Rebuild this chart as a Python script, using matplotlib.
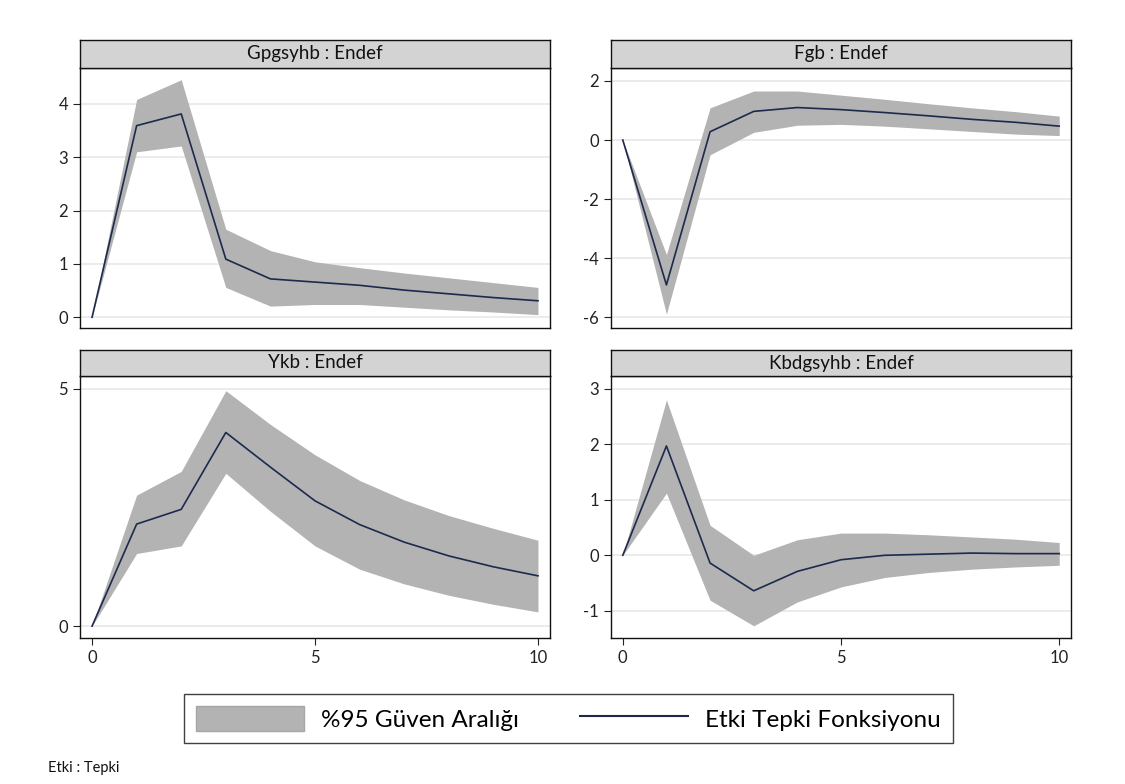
import numpy as np
import matplotlib
matplotlib.use("Agg")
import matplotlib.pyplot as plt
from matplotlib.patches import Patch
from matplotlib.lines import Line2D

plt.rcParams["font.family"] = ["Lato", "DejaVu Sans"]
plt.rcParams["axes.unicode_minus"] = False

donem = list(range(11))

# Gpgsyhb : Endef
gpg_etki = [0, 3.59, 3.81, 1.09, 0.72, 0.66, 0.60, 0.51, 0.44, 0.37, 0.31]
gpg_ust = [0, 4.08, 4.45, 1.65, 1.25, 1.04, 0.93, 0.83, 0.74, 0.65, 0.56]
gpg_alt = [0, 3.10, 3.21, 0.56, 0.21, 0.24, 0.24, 0.19, 0.14, 0.10, 0.05]

# Fgb : Endef
fgb_etki = [0, -4.91, 0.28, 0.97, 1.10, 1.03, 0.93, 0.82, 0.70, 0.60, 0.47]
fgb_ust = [0, -3.88, 1.09, 1.66, 1.66, 1.52, 1.38, 1.23, 1.09, 0.96, 0.81]
fgb_alt = [0, -5.90, -0.50, 0.26, 0.50, 0.53, 0.47, 0.38, 0.29, 0.20, 0.15]

# Ykb : Endef
ykb_etki = [0, 2.15, 2.46, 4.08, 3.35, 2.64, 2.14, 1.77, 1.48, 1.25, 1.06]
ykb_ust = [0, 2.76, 3.26, 4.96, 4.25, 3.61, 3.07, 2.66, 2.33, 2.06, 1.81]
ykb_alt = [0, 1.53, 1.69, 3.22, 2.42, 1.69, 1.20, 0.89, 0.65, 0.46, 0.30]

# Kbdgsyhb : Endef
kbd_etki = [0, 1.97, -0.14, -0.64, -0.29, -0.08, 0.0, 0.02, 0.04, 0.03, 0.03]
kbd_ust = [0, 2.80, 0.54, 0.0, 0.28, 0.40, 0.40, 0.37, 0.33, 0.29, 0.23]
kbd_alt = [0, 1.12, -0.81, -1.27, -0.84, -0.57, -0.40, -0.31, -0.25, -0.21, -0.18]

panel_basliklari = ["Gpgsyhb : Endef", "Fgb : Endef", "Ykb : Endef", "Kbdgsyhb : Endef"]
y_tikler = [[0, 1, 2, 3, 4], [-6, -4, -2, 0, 2], [0, 5], [-1, 0, 1, 2, 3]]
y_sinirlar = [(-0.2, 4.67), (-6.37, 2.44), (-0.25, 5.27), (-1.49, 3.23)]

BANT = "#b3b3b3"
CIZGI = "#1c2a4d"

W, H = 1125, 784
fig = plt.figure(figsize=(W / 100, H / 100), dpi=100)


def kutu(x0, x1, y0, y1):
    return [x0 / W, 1 - y1 / H, (x1 - x0) / W, (y1 - y0) / H]


# piksel olarak: sol, sag, serit ust, cizim ust, cizim alt
paneller = [
    (80, 550, 40, 68, 328),
    (611, 1071, 40, 68, 328),
    (80, 550, 350, 376, 638),
    (611, 1071, 350, 376, 638),
]

veriler = [
    (gpg_etki, gpg_ust, gpg_alt),
    (fgb_etki, fgb_ust, fgb_alt),
    (ykb_etki, ykb_ust, ykb_alt),
    (kbd_etki, kbd_ust, kbd_alt),
]

for i, ((x0, x1, s0, p0, p1), (etki, ust, alt)) in enumerate(zip(paneller, veriler)):
    ax = fig.add_axes(kutu(x0, x1, p0, p1))
    ax.fill_between(donem, alt, ust, color=BANT, linewidth=0, zorder=2)
    ax.plot(donem, etki, color=CIZGI, linewidth=1.2, zorder=3)
    ax.set_xlim(-0.27, 10.27)
    ax.set_ylim(*y_sinirlar[i])
    ax.set_yticks(y_tikler[i])
    ax.grid(axis="y", color="#e8e8e8", linewidth=1.2, zorder=0)
    ax.tick_params(axis="y", labelsize=12, length=5, width=0.8, colors="#222222")
    if i >= 2:
        ax.set_xticks([0, 5, 10])
        ax.tick_params(axis="x", labelsize=12, length=5, width=0.8, colors="#222222")
    else:
        ax.set_xticks([])
    for sp in ax.spines.values():
        sp.set_color("#111111")
        sp.set_linewidth(1.0)

    serit = fig.add_axes(kutu(x0, x1, s0, p0))
    serit.set_facecolor("#d3d3d3")
    serit.set_xticks([])
    serit.set_yticks([])
    for sp in serit.spines.values():
        sp.set_color("#111111")
        sp.set_linewidth(1.0)
    serit.text(0.5, 0.5, panel_basliklari[i], ha="center", va="center",
               fontsize=13.5, color="#111111", transform=serit.transAxes)

tutamaclar = [
    Patch(facecolor=BANT, edgecolor="#a6a6a6", linewidth=1.0, label="%95 Güven Aralığı"),
    Line2D([0], [0], color=CIZGI, linewidth=1.5, label="Etki Tepki Fonksiyonu"),
]
lej = fig.legend(handles=tutamaclar, loc="center", bbox_to_anchor=(0.5053, 0.0835),
                 ncol=2, fontsize=17.5, frameon=True, fancybox=False,
                 handlelength=4.45, handleheight=1.23, columnspacing=2.5,
                 borderpad=0.5, handletextpad=0.7)
lej.get_frame().set_edgecolor("#111111")
lej.get_frame().set_linewidth(1.0)

fig.text(48 / W, 1 - 768 / H, "Etki : Tepki", fontsize=10.5, va="center", ha="left",
         color="#111111")

fig.savefig("out.png", dpi=100, facecolor="white")
